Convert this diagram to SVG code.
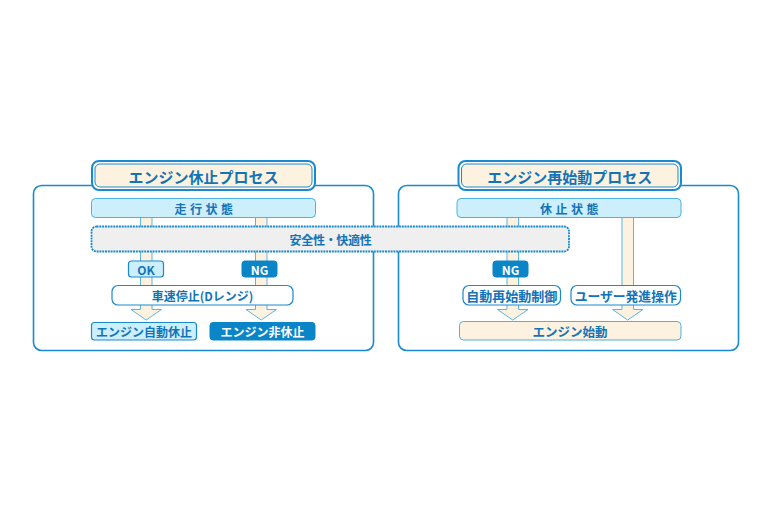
<svg xmlns="http://www.w3.org/2000/svg" width="772" height="513" viewBox="0 0 772 513">
<style>
text{font-family:"Noto Sans CJK JP","Noto Sans",sans-serif;font-weight:bold;text-anchor:middle;dominant-baseline:central;fill:#1274b8}
.panel{fill:#fff;stroke:#1a8ad0;stroke-width:1.6}
.tOut{fill:#fff;stroke:#1a8ad0;stroke-width:2}
.tIn{fill:#fdf2e0;stroke:#1a8ad0;stroke-width:1}
.bar{fill:#cdeefb;stroke:#4fb0e3;stroke-width:1}
.col{fill:#fdf2e0;stroke:#5ab6e6;stroke-width:1}
.safe{fill:#efefef;stroke:#1a8ad0;stroke-width:1.8;stroke-dasharray:2 0.8}
.lb{fill:#cdeefb;stroke:#1a8ad0;stroke-width:1.2}
.db{fill:#0a85c7;stroke:#0a85c7;stroke-width:1}
.wb{fill:#fff;stroke:#1a8ad0;stroke-width:1.2}
.be{fill:#fdf2e0;stroke:#4fb0e3;stroke-width:1}
.w{fill:#fff}
</style>
<g id="panel-stop">
<rect class="panel" x="33.5" y="185.5" width="340" height="165" rx="8"/>
</g>
<g id="panel-restart">
<rect class="panel" x="398.5" y="185.5" width="340" height="165" rx="8"/>
</g>
<g id="connectors">
<rect class="col" x="140.5" y="217.5" width="11.5" height="68"/>
<rect class="col" x="255.5" y="217.5" width="11.5" height="68"/>
<rect class="col" x="507" y="217.5" width="11.5" height="68"/>
<rect class="col" x="622" y="217.5" width="11.5" height="68"/>
<path class="col" d="M140.5,305 V309.5 H131 L146.2,320 L161.5,309.5 H152 V305"/>
<path class="col" d="M255.5,305 V309.5 H246 L261.2,320 L276.5,309.5 H267 V305"/>
<path class="col" d="M507,305 V309.5 H497.5 L512.7,320 L528,309.5 H518.5 V305"/>
<path class="col" d="M622,305 V309.5 H612.5 L627.7,320 L643,309.5 H633.5 V305"/>
</g>
<g id="title-stop">
<rect class="tOut" x="92" y="161" width="223" height="29" rx="7"/>
<rect class="tIn" x="95" y="164" width="217" height="23" rx="5"/>
<text x="203.5" y="176" font-size="15">エンジン休止プロセス</text>
</g>
<g id="title-restart">
<rect class="tOut" x="458.5" y="161" width="222.5" height="29" rx="7"/>
<rect class="tIn" x="461.5" y="164" width="216.5" height="23" rx="5"/>
<text x="569.7" y="176" font-size="15">エンジン再始動プロセス</text>
</g>
<g id="running">
<rect class="bar" x="91.5" y="198.5" width="224" height="19" rx="4"/>
<text x="205.5" y="208" font-size="12" letter-spacing="3.5">走行状態</text>
</g>
<g id="idle">
<rect class="bar" x="457" y="198.5" width="224" height="19" rx="4"/>
<text x="571" y="208" font-size="12" letter-spacing="3.5">休止状態</text>
</g>
<g id="safety">
<rect class="safe" x="91.5" y="226.5" width="477.5" height="25" rx="5"/>
<text x="330.5" y="239.5" font-size="12" letter-spacing="-0.3">安全性・快適性</text>
</g>
<g id="ok">
<rect class="lb" x="128.5" y="261" width="35" height="16" rx="3"/>
<text x="146" y="269" font-size="12">OK</text>
</g>
<g id="ng-stop">
<rect class="db" x="242" y="261" width="35" height="16" rx="3"/>
<text class="w" x="259.5" y="269" font-size="12">NG</text>
</g>
<g id="ng-restart">
<rect class="db" x="493" y="261" width="35" height="16" rx="3"/>
<text class="w" x="510.5" y="269" font-size="12">NG</text>
</g>
<g id="vehicle-stop">
<rect class="wb" x="112" y="285.5" width="181" height="19.5" rx="6"/>
<text x="202.5" y="295.5" font-size="12">車速停止(Dレンジ)</text>
</g>
<g id="auto-restart">
<rect class="wb" x="463" y="285.5" width="97.5" height="19.5" rx="6"/>
<text x="511.7" y="295.5" font-size="13">自動再始動制御</text>
</g>
<g id="user-start">
<rect class="wb" x="571" y="285.5" width="109.5" height="19.5" rx="6"/>
<text x="625.7" y="295.5" font-size="12.8">ユーザー発進操作</text>
</g>
<g id="auto-stop">
<rect class="lb" x="91.5" y="322.5" width="105" height="17.5" rx="3"/>
<text x="144" y="331.5" font-size="12">エンジン自動休止</text>
</g>
<g id="no-stop">
<rect class="db" x="210" y="322.5" width="105" height="17.5" rx="3"/>
<text class="w" x="262.5" y="331.5" font-size="12">エンジン非休止</text>
</g>
<g id="engine-start">
<rect class="be" x="459.5" y="321.5" width="221.5" height="18.5" rx="4"/>
<text x="570" y="331" font-size="12.5">エンジン始動</text>
</g>
</svg>
